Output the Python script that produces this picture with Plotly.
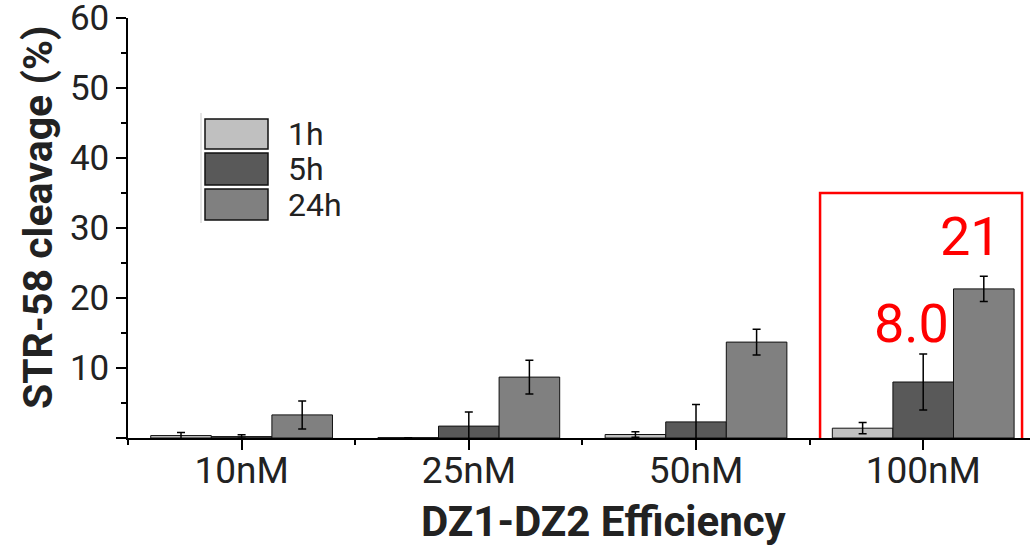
import plotly.graph_objects as go

categories = ["10nM", "25nM", "50nM", "100nM"]
series_names = ["1h", "5h", "24h"]
vals_1h = [0.35, 0.05, 0.5, 1.4]
err_1h = [0.45, 0.0, 0.4, 0.8]
vals_5h = [0.2, 1.7, 2.3, 8.0]
err_5h = [0.25, 2.0, 2.5, 4.0]
vals_24h = [3.3, 8.7, 13.7, 21.3]
err_24h = [2.0, 2.4, 1.85, 1.8]
colors = ["#c0c0c0", "#595959", "#808080"]
y_ticks = [0, 10, 20, 30, 40, 50, 60]
highlight_labels = ["8.0", "21"]

xpos = list(range(len(categories)))
series_vals = [vals_1h, vals_5h, vals_24h]
series_errs = [err_1h, err_5h, err_24h]

fig = go.Figure()
for name, v, e, c in zip(series_names, series_vals, series_errs, colors):
    fig.add_trace(go.Bar(
        x=xpos, y=v, name=name,
        marker=dict(color=c, line=dict(color="#111111", width=1)),
        error_y=dict(type="data", array=e, visible=True, color="#000000",
                     thickness=1.5, width=4),
        showlegend=False,
    ))

font_main = "Roboto, Arial, sans-serif"
fig.update_layout(
    width=1030, height=545,
    margin=dict(l=128, r=0, t=18, b=107),
    paper_bgcolor="white", plot_bgcolor="white",
    barmode="group", bargap=0.2, bargroupgap=0,
    font=dict(family=font_main, color="#222222"),
    xaxis=dict(
        range=[-0.5, 3.47], tickvals=xpos, ticktext=categories, automargin=False,
        showgrid=False, zeroline=False, showline=True, linecolor="#000000", linewidth=1.5,
        ticks="outside", ticklen=10, tickwidth=1.5, tickcolor="#000000",
        tickfont=dict(size=37, family=font_main, color="#222222"),
        ticklabelstandoff=-11, ticklabeloverflow="allow",
        minor=dict(tickvals=[-0.5, 0.5, 1.5, 2.5], ticks="outside", ticklen=5,
                   tickwidth=1.5, tickcolor="#000000"),
    ),
    yaxis=dict(
        range=[0, 60], tickvals=y_ticks, automargin=False,
        ticktext=["" if t == 0 else str(t) for t in y_ticks],
        showgrid=False, zeroline=False, showline=True, linecolor="#000000", linewidth=1.5,
        ticks="outside", ticklen=10, tickwidth=1.5, tickcolor="#000000",
        tickfont=dict(size=35, family=font_main, color="#222222"),
        ticklabeloverflow="allow",
        minor=dict(dtick=5, tick0=5, ticks="outside", ticklen=5, tickwidth=1.5,
                   tickcolor="#000000"),
    ),
)

# axis titles
fig.add_annotation(text="<b>DZ1-DZ2 Efficiency</b>", xref="paper", yref="paper",
                   x=0.528, y=-0.198, xanchor="center", yanchor="middle",
                   showarrow=False, font=dict(size=42, family=font_main, color="#222222"))
fig.add_annotation(text="<b>STR-58 cleavage (%)</b>", xref="paper", yref="paper",
                   x=-0.0998, y=0.526, xanchor="center", yanchor="middle", textangle=-90,
                   showarrow=False, font=dict(size=41, family=font_main, color="#222222"))

# highlight box and labels
fig.add_shape(type="rect", xref="x", yref="y", x0=2.546, x1=3.435, y0=-0.4, y1=35.0,
              line=dict(color="#ff0000", width=2.5), fillcolor="rgba(0,0,0,0)")
fig.add_annotation(text=highlight_labels[0], x=2.95, y=16.3, xref="x", yref="y",
                   showarrow=False, font=dict(size=54, color="#ff0000", family=font_main))
fig.add_annotation(text=highlight_labels[1], x=3.21, y=28.8, xref="x", yref="y",
                   showarrow=False, font=dict(size=54, color="#ff0000", family=font_main))

# manual legend (pixel positions converted to paper coords)
W, H = 902.0, 420.0
L, T = 128.0, 18.0
def px(xp):
    return (xp - L) / W
def py(yp):
    return 1 - (yp - T) / H
boxes = [(119, 149), (153, 185), (189, 220)]
fig.add_shape(type="line", xref="paper", yref="paper", x0=px(201), x1=px(201),
              y0=py(113), y1=py(223), line=dict(color="#cccccc", width=1))
for (y0, y1), name, c in zip(boxes, series_names, colors):
    fig.add_shape(type="rect", xref="paper", yref="paper",
                  x0=px(205), x1=px(268), y0=py(y1), y1=py(y0),
                  fillcolor=c, line=dict(color="#111111", width=1.5))
    fig.add_annotation(text=name, xref="paper", yref="paper", x=px(286),
                       y=py((y0 + y1) / 2), xanchor="left", yanchor="middle",
                       showarrow=False, font=dict(size=32, family=font_main, color="#222222"))

fig.write_html("out.html", config={"displayModeBar": False},
               post_script="document.body.style.margin='0px';")
